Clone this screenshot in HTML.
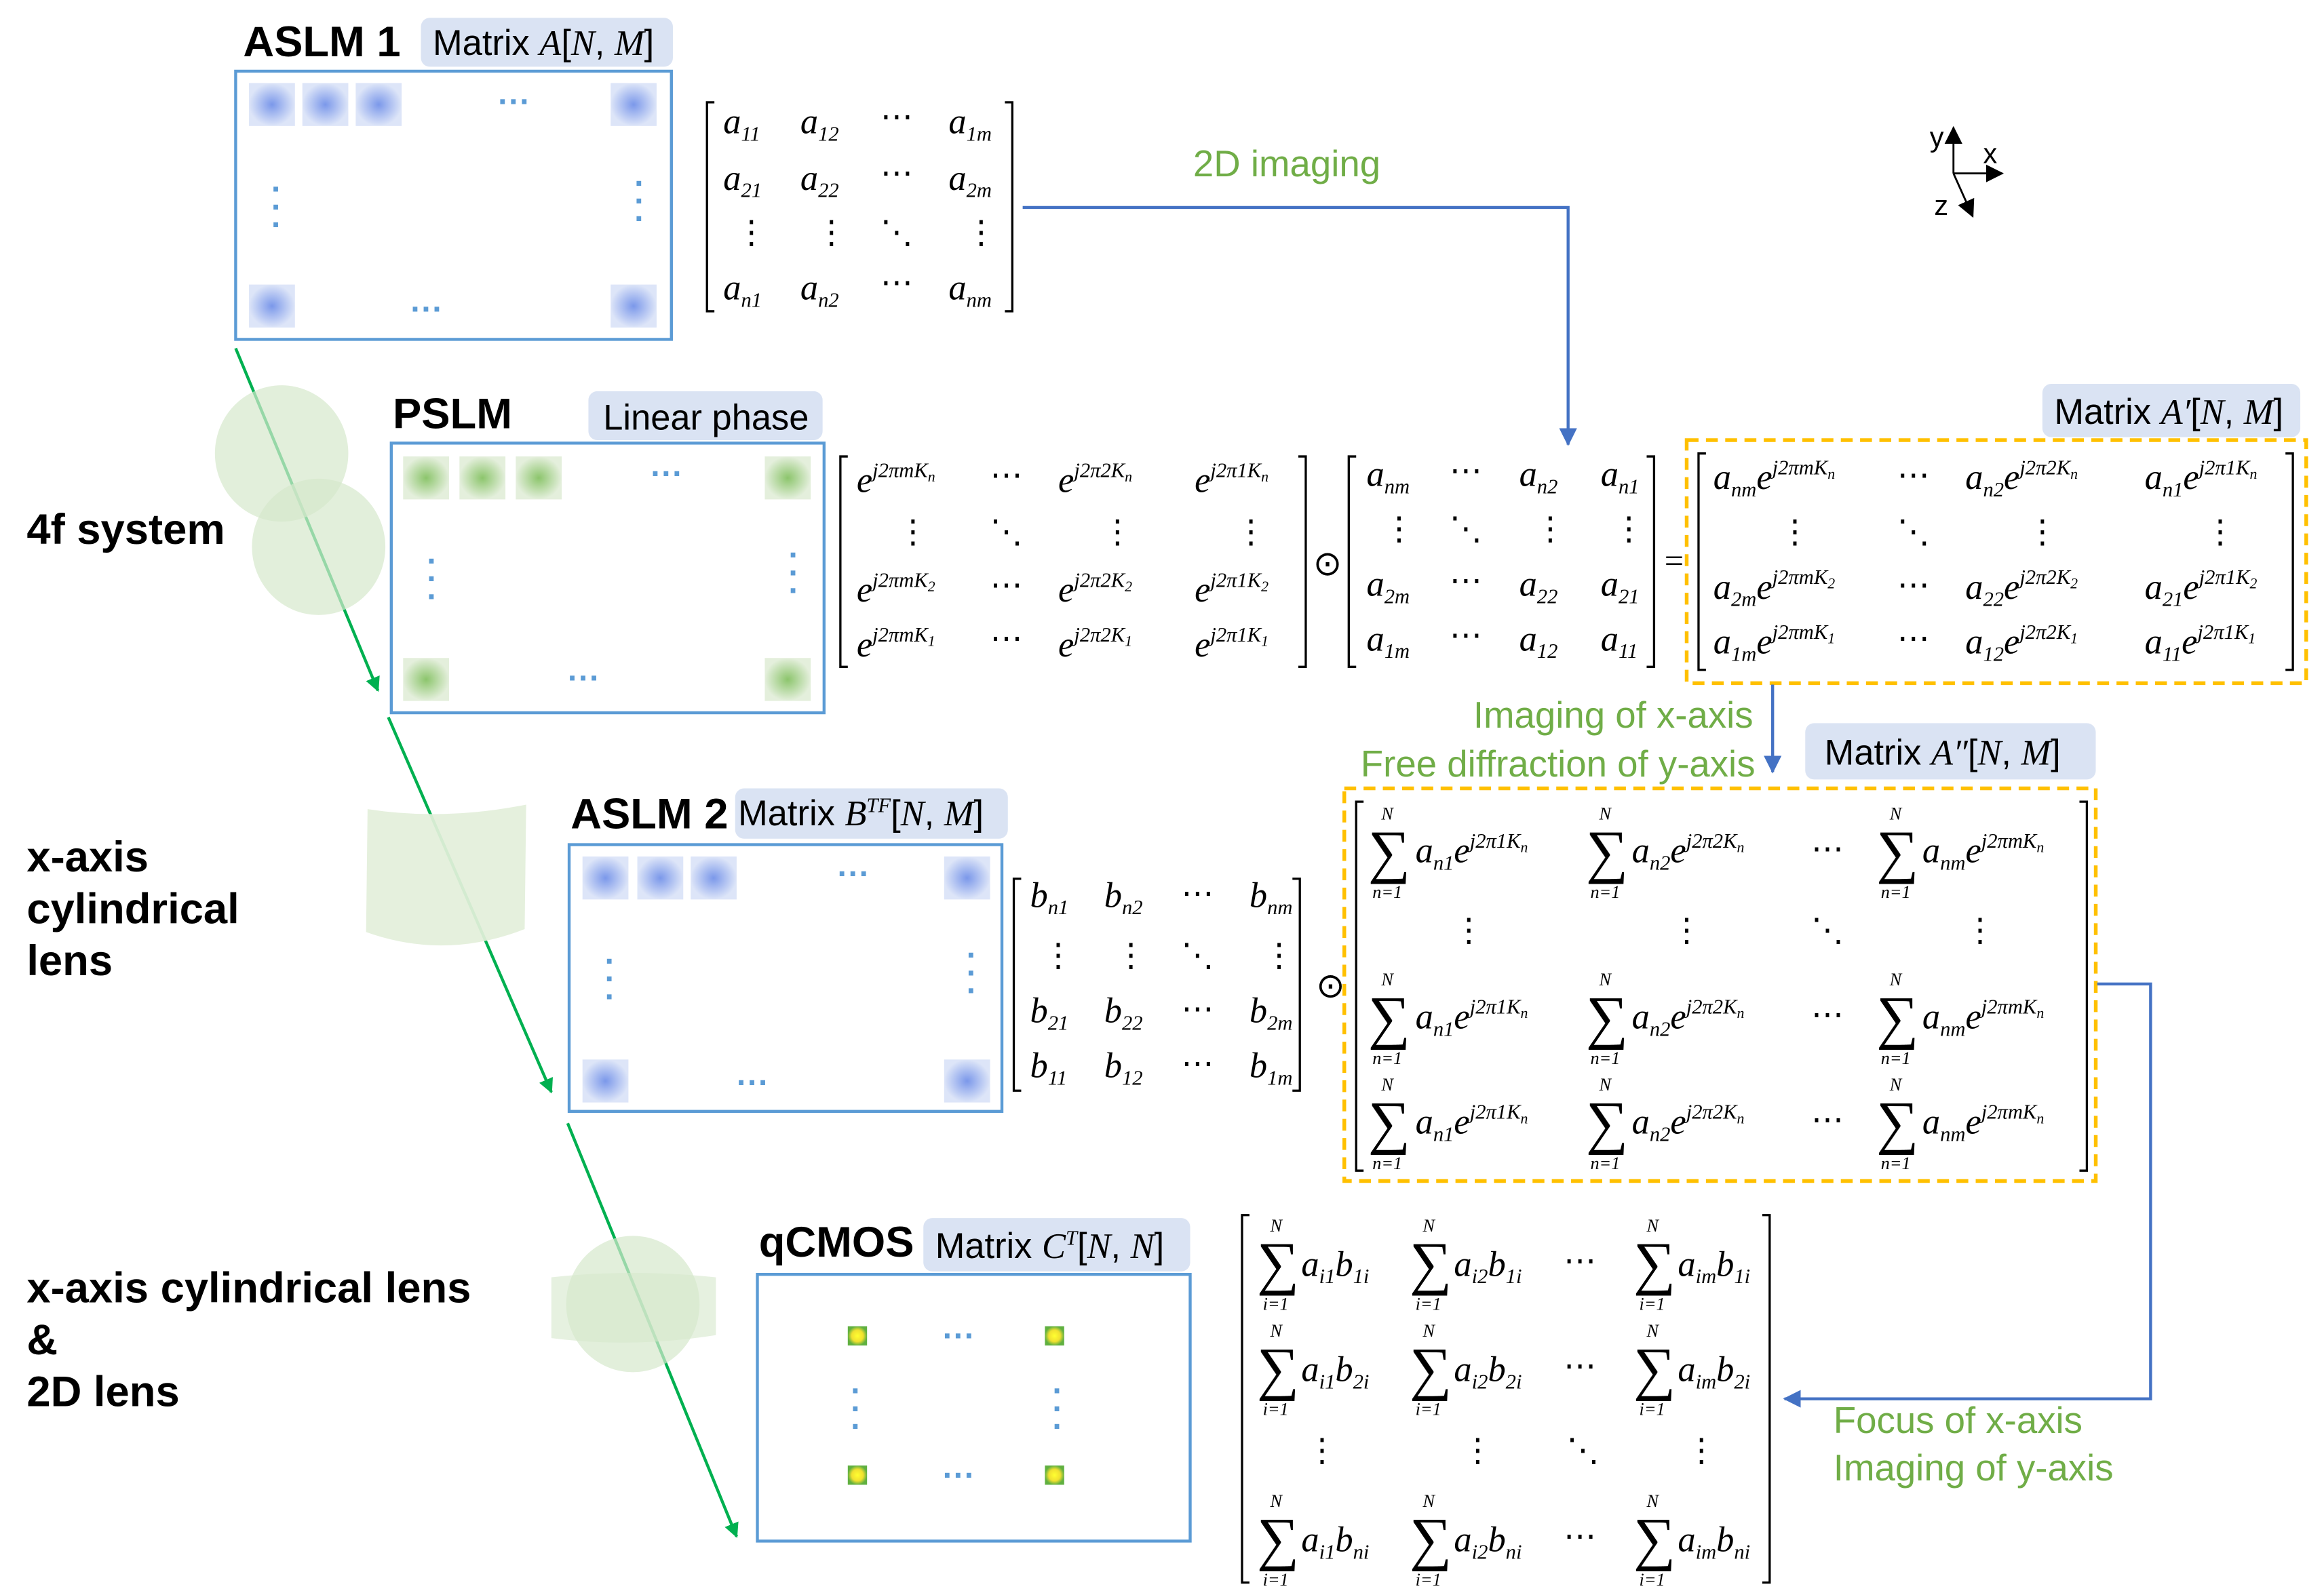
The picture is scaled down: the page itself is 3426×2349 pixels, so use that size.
<!DOCTYPE html>
<html><head><meta charset="utf-8"><style>
html,body{margin:0;padding:0;background:#fff;}
svg{display:block;}
.b{font-family:"Liberation Sans",sans-serif;font-weight:bold;font-size:29px;fill:#000;}
.l{font-family:"Liberation Sans",sans-serif;font-size:24px;fill:#000;}
.g{font-family:"Liberation Sans",sans-serif;font-size:25px;fill:#70ad47;}
.m{font-family:"Liberation Serif",serif;font-style:italic;font-size:24px;fill:#000;}
.s{font-size:14px;}
.t{font-size:10px;}
.u{font-family:"Liberation Serif",serif;font-size:23px;fill:#000;}
.sg{font-family:"Liberation Serif",serif;font-size:40px;fill:#000;}
.sm{font-family:"Liberation Serif",serif;font-style:italic;font-size:12px;fill:#000;}
.d{font-family:"Liberation Serif",serif;font-size:22px;fill:#000;}
.bd{font-family:"Liberation Sans",sans-serif;font-weight:bold;font-size:22px;fill:#5b9bd5;}
</style></head><body>
<svg width="3426" height="2349" viewBox="0 0 1568 1075" xmlns="http://www.w3.org/2000/svg">
<defs>
<radialGradient id="bl"><stop offset="0" stop-color="#7b98ea"/><stop offset="1" stop-color="#dde5f8"/></radialGradient>
<radialGradient id="gr"><stop offset="0" stop-color="#8cc56c"/><stop offset="1" stop-color="#e4efdc"/></radialGradient>
<radialGradient id="ye"><stop offset="0" stop-color="#ffff30"/><stop offset="0.6" stop-color="#f0e030"/><stop offset="1" stop-color="#60b040"/></radialGradient>
<marker id="ag" markerWidth="10" markerHeight="10" refX="9" refY="5" orient="auto" markerUnits="userSpaceOnUse"><path d="M0,0 L10,5 L0,10 Z" fill="#00b050"/></marker>
<marker id="ab" markerWidth="12" markerHeight="12" refX="11" refY="6" orient="auto" markerUnits="userSpaceOnUse"><path d="M0,0 L12,6 L0,12 Z" fill="#4472c4"/></marker>
<marker id="ak" markerWidth="12" markerHeight="12" refX="11" refY="6" orient="auto" markerUnits="userSpaceOnUse"><path d="M0,0 L12,6 L0,12 Z" fill="#000"/></marker>
</defs>

<line x1="159" y1="235" x2="255" y2="466" stroke="#00b050" stroke-width="2" marker-end="url(#ag)"/>
<line x1="262" y1="484" x2="372" y2="737" stroke="#00b050" stroke-width="2" marker-end="url(#ag)"/>
<line x1="383" y1="758" x2="497" y2="1037" stroke="#00b050" stroke-width="2" marker-end="url(#ag)"/>
<ellipse cx="190" cy="306" rx="45" ry="46" fill="#d5e8cc" opacity="0.7"/>
<ellipse cx="215" cy="369" rx="45" ry="46" fill="#d5e8cc" opacity="0.7"/>
<path d="M248,546 Q300,554 355,543 L354,627 Q300,648 247,629 Z" fill="#e3efda" opacity="0.93"/>
<path d="M372,862 Q427,856 483,862 L483,901 Q427,910 372,903 Z" fill="#d5e8cc" opacity="0.6"/>
<ellipse cx="427" cy="880" rx="45" ry="46" fill="#d5e8cc" opacity="0.7"/>

<text class="b" x="18" y="367">4f system</text>
<text class="b" x="18" y="588">x-axis</text>
<text class="b" x="18" y="623">cylindrical</text>
<text class="b" x="18" y="658">lens</text>
<text class="b" x="18" y="879">x-axis cylindrical lens</text>
<text class="b" x="18" y="914">&amp;</text>
<text class="b" x="18" y="949">2D lens</text>

<text class="b" x="164" y="38">ASLM 1</text>
<rect x="284" y="12" width="170" height="33" rx="6" fill="#dae3f3"/>
<text class="l" x="292" y="37">Matrix <tspan class="m">A</tspan>[<tspan class="m">N</tspan>, <tspan class="m">M</tspan>]</text>
<rect x="159" y="48" width="294" height="181" fill="none" stroke="#5b9bd5" stroke-width="2"/>
<rect x="168" y="56" width="31" height="29" fill="url(#bl)"/><rect x="204" y="56" width="31" height="29" fill="url(#bl)"/><rect x="240" y="56" width="31" height="29" fill="url(#bl)"/><rect x="412" y="56" width="31" height="29" fill="url(#bl)"/>
<rect x="168" y="192" width="31" height="29" fill="url(#bl)"/><rect x="412" y="192" width="31" height="29" fill="url(#bl)"/>
<text class="bd" x="336" y="76">···</text><text class="bd" x="277" y="216">···</text>
<text class="bd" x="183" y="135">·</text><text class="bd" x="183" y="147">·</text><text class="bd" x="183" y="159">·</text>
<text class="bd" x="428" y="131">·</text><text class="bd" x="428" y="143">·</text><text class="bd" x="428" y="155">·</text>

<path d="M482,69 H477 V210 H482 M678,69 H683 V210 H678" fill="none" stroke="#000" stroke-width="1.5"/>
<text class="m" x="488" y="90">a<tspan class="s" dy="5">11</tspan></text>
<text class="m" x="540" y="90">a<tspan class="s" dy="5">12</tspan></text>
<text class="d" x="594" y="86">⋯</text>
<text class="m" x="640" y="90">a<tspan class="s" dy="5">1m</tspan></text>
<text class="m" x="488" y="128">a<tspan class="s" dy="5">21</tspan></text>
<text class="m" x="540" y="128">a<tspan class="s" dy="5">22</tspan></text>
<text class="d" x="594" y="124">⋯</text>
<text class="m" x="640" y="128">a<tspan class="s" dy="5">2m</tspan></text>
<text class="d" x="496" y="164">⋮</text><text class="d" x="550" y="164">⋮</text><text class="d" x="594" y="164">⋱</text><text class="d" x="651" y="164">⋮</text>
<text class="m" x="488" y="202">a<tspan class="s" dy="5">n1</tspan></text>
<text class="m" x="540" y="202">a<tspan class="s" dy="5">n2</tspan></text>
<text class="d" x="594" y="198">⋯</text>
<text class="m" x="640" y="202">a<tspan class="s" dy="5">nm</tspan></text>

<polyline points="690,140 1058,140 1058,300" fill="none" stroke="#4472c4" stroke-width="2" marker-end="url(#ab)"/>
<text class="g" x="805" y="119">2D imaging</text>

<line x1="1318" y1="117" x2="1318" y2="86" stroke="#000" stroke-width="1.3" marker-end="url(#ak)"/>
<line x1="1318" y1="117" x2="1351" y2="117" stroke="#000" stroke-width="1.3" marker-end="url(#ak)"/>
<line x1="1318" y1="117" x2="1331" y2="146" stroke="#000" stroke-width="1.3" marker-end="url(#ak)"/>
<text x="1302" y="99" font-family="Liberation Sans,sans-serif" font-size="19">y</text>
<text x="1338" y="110" font-family="Liberation Sans,sans-serif" font-size="19">x</text>
<text x="1305" y="145" font-family="Liberation Sans,sans-serif" font-size="19">z</text>

<text class="b" x="265" y="289">PSLM</text>
<rect x="397" y="264" width="158" height="33" rx="6" fill="#dae3f3"/>
<text class="l" x="407" y="290" font-size="25">Linear phase</text>
<rect x="264" y="299" width="292" height="182" fill="none" stroke="#5b9bd5" stroke-width="2"/>
<rect x="272" y="308" width="31" height="29" fill="url(#gr)"/><rect x="310" y="308" width="31" height="29" fill="url(#gr)"/><rect x="348" y="308" width="31" height="29" fill="url(#gr)"/><rect x="516" y="308" width="31" height="29" fill="url(#gr)"/>
<rect x="272" y="444" width="31" height="29" fill="url(#gr)"/><rect x="516" y="444" width="31" height="29" fill="url(#gr)"/>
<text class="bd" x="439" y="327">···</text><text class="bd" x="383" y="465">···</text>
<text class="bd" x="288" y="386">·</text><text class="bd" x="288" y="398">·</text><text class="bd" x="288" y="410">·</text>
<text class="bd" x="532" y="382">·</text><text class="bd" x="532" y="394">·</text><text class="bd" x="532" y="406">·</text>

<path d="M572,308 H567 V450 H572 M876,308 H881 V450 H876" fill="none" stroke="#000" stroke-width="1.5"/>
<text class="m" x="578" y="332">e<tspan class="s" dy="-10">j2πmK</tspan><tspan class="t" dy="3">n</tspan></text>
<text class="m" x="714" y="332">e<tspan class="s" dy="-10">j2π2K</tspan><tspan class="t" dy="3">n</tspan></text>
<text class="m" x="806" y="332">e<tspan class="s" dy="-10">j2π1K</tspan><tspan class="t" dy="3">n</tspan></text>
<text class="m" x="578" y="406">e<tspan class="s" dy="-10">j2πmK</tspan><tspan class="t" dy="3">2</tspan></text>
<text class="m" x="714" y="406">e<tspan class="s" dy="-10">j2π2K</tspan><tspan class="t" dy="3">2</tspan></text>
<text class="m" x="806" y="406">e<tspan class="s" dy="-10">j2π1K</tspan><tspan class="t" dy="3">2</tspan></text>
<text class="m" x="578" y="443">e<tspan class="s" dy="-10">j2πmK</tspan><tspan class="t" dy="3">1</tspan></text>
<text class="m" x="714" y="443">e<tspan class="s" dy="-10">j2π2K</tspan><tspan class="t" dy="3">1</tspan></text>
<text class="m" x="806" y="443">e<tspan class="s" dy="-10">j2π1K</tspan><tspan class="t" dy="3">1</tspan></text>
<text class="d" x="668" y="328">⋯</text><text class="d" x="668" y="402">⋯</text><text class="d" x="668" y="438">⋯</text>
<text class="d" x="605" y="366">⋮</text><text class="d" x="668" y="366">⋱</text><text class="d" x="743" y="366">⋮</text><text class="d" x="833" y="366">⋮</text>
<text class="u" x="886" y="388">⊙</text>

<path d="M915,308 H910 V450 H915 M1111,308 H1116 V450 H1111" fill="none" stroke="#000" stroke-width="1.5"/>
<text class="m" x="922" y="328">a<tspan class="s" dy="5">nm</tspan></text>
<text class="m" x="1025" y="328">a<tspan class="s" dy="5">n2</tspan></text>
<text class="m" x="1080" y="328">a<tspan class="s" dy="5">n1</tspan></text>
<text class="m" x="922" y="402">a<tspan class="s" dy="5">2m</tspan></text>
<text class="m" x="1025" y="402">a<tspan class="s" dy="5">22</tspan></text>
<text class="m" x="1080" y="402">a<tspan class="s" dy="5">21</tspan></text>
<text class="m" x="922" y="439">a<tspan class="s" dy="5">1m</tspan></text>
<text class="m" x="1025" y="439">a<tspan class="s" dy="5">12</tspan></text>
<text class="m" x="1080" y="439">a<tspan class="s" dy="5">11</tspan></text>
<text class="d" x="978" y="325">⋯</text><text class="d" x="978" y="399">⋯</text><text class="d" x="978" y="436">⋯</text>
<text class="d" x="933" y="364">⋮</text><text class="d" x="978" y="364">⋱</text><text class="d" x="1035" y="364">⋮</text><text class="d" x="1088" y="364">⋮</text>
<text class="u" x="1123" y="386" font-size="26">=</text>

<rect x="1378" y="259" width="174" height="36" rx="6" fill="#dae3f3"/>
<text class="l" x="1386" y="286">Matrix <tspan class="m">A′</tspan>[<tspan class="m">N</tspan>, <tspan class="m">M</tspan>]</text>
<rect x="1138" y="297" width="418" height="164" fill="none" stroke="#ffc000" stroke-width="2.5" stroke-dasharray="8,5"/>
<path d="M1151,306 H1146 V452 H1151 M1542,306 H1547 V452 H1542" fill="none" stroke="#000" stroke-width="1.5"/>
<text class="m" x="1156" y="330">a<tspan class="s" dy="5">nm</tspan><tspan dy="-5">e</tspan><tspan class="s" dy="-10">j2πmK</tspan><tspan class="t" dy="3">n</tspan></text>
<text class="m" x="1326" y="330">a<tspan class="s" dy="5">n2</tspan><tspan dy="-5">e</tspan><tspan class="s" dy="-10">j2π2K</tspan><tspan class="t" dy="3">n</tspan></text>
<text class="m" x="1447" y="330">a<tspan class="s" dy="5">n1</tspan><tspan dy="-5">e</tspan><tspan class="s" dy="-10">j2π1K</tspan><tspan class="t" dy="3">n</tspan></text>
<text class="m" x="1156" y="404">a<tspan class="s" dy="5">2m</tspan><tspan dy="-5">e</tspan><tspan class="s" dy="-10">j2πmK</tspan><tspan class="t" dy="3">2</tspan></text>
<text class="m" x="1326" y="404">a<tspan class="s" dy="5">22</tspan><tspan dy="-5">e</tspan><tspan class="s" dy="-10">j2π2K</tspan><tspan class="t" dy="3">2</tspan></text>
<text class="m" x="1447" y="404">a<tspan class="s" dy="5">21</tspan><tspan dy="-5">e</tspan><tspan class="s" dy="-10">j2π1K</tspan><tspan class="t" dy="3">2</tspan></text>
<text class="m" x="1156" y="441">a<tspan class="s" dy="5">1m</tspan><tspan dy="-5">e</tspan><tspan class="s" dy="-10">j2πmK</tspan><tspan class="t" dy="3">1</tspan></text>
<text class="m" x="1326" y="441">a<tspan class="s" dy="5">12</tspan><tspan dy="-5">e</tspan><tspan class="s" dy="-10">j2π2K</tspan><tspan class="t" dy="3">1</tspan></text>
<text class="m" x="1447" y="441">a<tspan class="s" dy="5">11</tspan><tspan dy="-5">e</tspan><tspan class="s" dy="-10">j2π1K</tspan><tspan class="t" dy="3">1</tspan></text>
<text class="d" x="1280" y="328">⋯</text><text class="d" x="1280" y="402">⋯</text><text class="d" x="1280" y="438">⋯</text>
<text class="d" x="1200" y="366">⋮</text><text class="d" x="1280" y="366">⋱</text><text class="d" x="1367" y="366">⋮</text><text class="d" x="1487" y="366">⋮</text>

<line x1="1196" y1="462" x2="1196" y2="521" stroke="#4472c4" stroke-width="2" marker-end="url(#ab)"/>
<text class="g" x="994" y="491">Imaging of x-axis</text>
<text class="g" x="918" y="524">Free diffraction of y-axis</text>
<rect x="1218" y="488" width="196" height="38" rx="6" fill="#dae3f3"/>
<text class="l" x="1231" y="516">Matrix <tspan class="m">A″</tspan>[<tspan class="m">N</tspan>, <tspan class="m">M</tspan>]</text>

<rect x="907" y="532" width="507" height="265" fill="none" stroke="#ffc000" stroke-width="2.5" stroke-dasharray="8,5"/>
<path d="M920,541 H915 V790 H920 M1403,541 H1408 V790 H1403" fill="none" stroke="#000" stroke-width="1.5"/>
<g id="srow">
<text class="sm" x="932" y="553">N</text><text class="sg" x="923" y="588">∑</text><text class="sm" x="926" y="606">n=1</text>
<text class="m" x="955" y="582">a<tspan class="s" dy="5">n1</tspan><tspan dy="-5">e</tspan><tspan class="s" dy="-10">j2π1K</tspan><tspan class="t" dy="3">n</tspan></text>
<text class="sm" x="1079" y="553">N</text><text class="sg" x="1070" y="588">∑</text><text class="sm" x="1073" y="606">n=1</text>
<text class="m" x="1101" y="582">a<tspan class="s" dy="5">n2</tspan><tspan dy="-5">e</tspan><tspan class="s" dy="-10">j2π2K</tspan><tspan class="t" dy="3">n</tspan></text>
<text class="d" x="1222" y="580">⋯</text>
<text class="sm" x="1275" y="553">N</text><text class="sg" x="1266" y="588">∑</text><text class="sm" x="1269" y="606">n=1</text>
<text class="m" x="1297" y="582">a<tspan class="s" dy="5">nm</tspan><tspan dy="-5">e</tspan><tspan class="s" dy="-10">j2πmK</tspan><tspan class="t" dy="3">n</tspan></text>
</g>
<use href="#srow" y="112"/>
<use href="#srow" y="183"/>
<text class="d" x="980" y="635">⋮</text><text class="d" x="1127" y="635">⋮</text><text class="d" x="1222" y="635">⋱</text><text class="d" x="1325" y="635">⋮</text>

<polyline points="1415,664 1451,664 1451,944 1204,944" fill="none" stroke="#4472c4" stroke-width="2" marker-end="url(#ab)"/>
<text class="g" x="1237" y="967">Focus of x-axis</text>
<text class="g" x="1237" y="999">Imaging of y-axis</text>

<text class="b" x="385" y="559">ASLM 2</text>
<rect x="496" y="532" width="184" height="34" rx="6" fill="#dae3f3"/>
<text class="l" x="498" y="557">Matrix <tspan class="m">B</tspan><tspan class="m s" dy="-9">TF</tspan><tspan dy="9">[</tspan><tspan class="m">N</tspan>, <tspan class="m">M</tspan>]</text>
<rect x="384" y="570" width="292" height="180" fill="none" stroke="#5b9bd5" stroke-width="2"/>
<rect x="393" y="578" width="31" height="29" fill="url(#bl)"/><rect x="430" y="578" width="31" height="29" fill="url(#bl)"/><rect x="466" y="578" width="31" height="29" fill="url(#bl)"/><rect x="637" y="578" width="31" height="29" fill="url(#bl)"/>
<rect x="393" y="715" width="31" height="29" fill="url(#bl)"/><rect x="637" y="715" width="31" height="29" fill="url(#bl)"/>
<text class="bd" x="565" y="597">···</text><text class="bd" x="497" y="738">···</text>
<text class="bd" x="408" y="656">·</text><text class="bd" x="408" y="668">·</text><text class="bd" x="408" y="680">·</text>
<text class="bd" x="652" y="652">·</text><text class="bd" x="652" y="664">·</text><text class="bd" x="652" y="676">·</text>

<path d="M689,593 H684 V736 H689 M872,593 H877 V736 H872" fill="none" stroke="#000" stroke-width="1.5"/>
<text class="m" x="695" y="612">b<tspan class="s" dy="5">n1</tspan></text>
<text class="m" x="745" y="612">b<tspan class="s" dy="5">n2</tspan></text>
<text class="m" x="843" y="612">b<tspan class="s" dy="5">nm</tspan></text>
<text class="m" x="695" y="690">b<tspan class="s" dy="5">21</tspan></text>
<text class="m" x="745" y="690">b<tspan class="s" dy="5">22</tspan></text>
<text class="m" x="843" y="690">b<tspan class="s" dy="5">2m</tspan></text>
<text class="m" x="695" y="727">b<tspan class="s" dy="5">11</tspan></text>
<text class="m" x="745" y="727">b<tspan class="s" dy="5">12</tspan></text>
<text class="m" x="843" y="727">b<tspan class="s" dy="5">1m</tspan></text>
<text class="d" x="797" y="610">⋯</text><text class="d" x="797" y="688">⋯</text><text class="d" x="797" y="725">⋯</text>
<text class="d" x="703" y="652">⋮</text><text class="d" x="752" y="652">⋮</text><text class="d" x="797" y="652">⋱</text><text class="d" x="852" y="652">⋮</text>
<text class="u" x="888" y="673">⊙</text>

<text class="b" x="512" y="848">qCMOS</text>
<rect x="623" y="822" width="180" height="36" rx="6" fill="#dae3f3"/>
<text class="l" x="631" y="849">Matrix <tspan class="m">C</tspan><tspan class="m s" dy="-9">T</tspan><tspan dy="9">[</tspan><tspan class="m">N</tspan>, <tspan class="m">N</tspan>]</text>
<rect x="511" y="860" width="292" height="180" fill="none" stroke="#5b9bd5" stroke-width="2"/>
<rect x="572" y="895" width="13" height="13" fill="url(#ye)"/><rect x="705" y="895" width="13" height="13" fill="url(#ye)"/>
<rect x="572" y="989" width="13" height="13" fill="url(#ye)"/><rect x="705" y="989" width="13" height="13" fill="url(#ye)"/>
<text class="bd" x="636" y="909">···</text><text class="bd" x="636" y="1003">···</text>
<text class="bd" x="574" y="946">·</text><text class="bd" x="574" y="958">·</text><text class="bd" x="574" y="970">·</text>
<text class="bd" x="710" y="946">·</text><text class="bd" x="710" y="958">·</text><text class="bd" x="710" y="970">·</text>

<path d="M843,820 H838 V1068 H843 M1189,820 H1194 V1068 H1189" fill="none" stroke="#000" stroke-width="1.5"/>
<g id="brow">
<text class="sm" x="857" y="831">N</text><text class="sg" x="848" y="866">∑</text><text class="sm" x="852" y="884">i=1</text>
<text class="m" x="878" y="861">a<tspan class="s" dy="5">i1</tspan><tspan dy="-5">b</tspan><tspan class="s" dy="5">1i</tspan></text>
<text class="sm" x="960" y="831">N</text><text class="sg" x="951" y="866">∑</text><text class="sm" x="955" y="884">i=1</text>
<text class="m" x="981" y="861">a<tspan class="s" dy="5">i2</tspan><tspan dy="-5">b</tspan><tspan class="s" dy="5">1i</tspan></text>
<text class="d" x="1055" y="858">⋯</text>
<text class="sm" x="1111" y="831">N</text><text class="sg" x="1102" y="866">∑</text><text class="sm" x="1106" y="884">i=1</text>
<text class="m" x="1132" y="861">a<tspan class="s" dy="5">im</tspan><tspan dy="-5">b</tspan><tspan class="s" dy="5">1i</tspan></text>
</g>
<g>
<text class="sm" x="857" y="902">N</text><text class="sg" x="848" y="937">∑</text><text class="sm" x="852" y="955">i=1</text>
<text class="m" x="878" y="932">a<tspan class="s" dy="5">i1</tspan><tspan dy="-5">b</tspan><tspan class="s" dy="5">2i</tspan></text>
<text class="sm" x="960" y="902">N</text><text class="sg" x="951" y="937">∑</text><text class="sm" x="955" y="955">i=1</text>
<text class="m" x="981" y="932">a<tspan class="s" dy="5">i2</tspan><tspan dy="-5">b</tspan><tspan class="s" dy="5">2i</tspan></text>
<text class="d" x="1055" y="929">⋯</text>
<text class="sm" x="1111" y="902">N</text><text class="sg" x="1102" y="937">∑</text><text class="sm" x="1106" y="955">i=1</text>
<text class="m" x="1132" y="932">a<tspan class="s" dy="5">im</tspan><tspan dy="-5">b</tspan><tspan class="s" dy="5">2i</tspan></text>
</g>
<g>
<text class="sm" x="857" y="1017">N</text><text class="sg" x="848" y="1052">∑</text><text class="sm" x="852" y="1070">i=1</text>
<text class="m" x="878" y="1047">a<tspan class="s" dy="5">i1</tspan><tspan dy="-5">b</tspan><tspan class="s" dy="5">ni</tspan></text>
<text class="sm" x="960" y="1017">N</text><text class="sg" x="951" y="1052">∑</text><text class="sm" x="955" y="1070">i=1</text>
<text class="m" x="981" y="1047">a<tspan class="s" dy="5">i2</tspan><tspan dy="-5">b</tspan><tspan class="s" dy="5">ni</tspan></text>
<text class="d" x="1055" y="1044">⋯</text>
<text class="sm" x="1111" y="1017">N</text><text class="sg" x="1102" y="1052">∑</text><text class="sm" x="1106" y="1070">i=1</text>
<text class="m" x="1132" y="1047">a<tspan class="s" dy="5">im</tspan><tspan dy="-5">b</tspan><tspan class="s" dy="5">ni</tspan></text>
</g>
<text class="d" x="881" y="986">⋮</text><text class="d" x="986" y="986">⋮</text><text class="d" x="1057" y="986">⋱</text><text class="d" x="1137" y="986">⋮</text>
</svg>
</body></html>
